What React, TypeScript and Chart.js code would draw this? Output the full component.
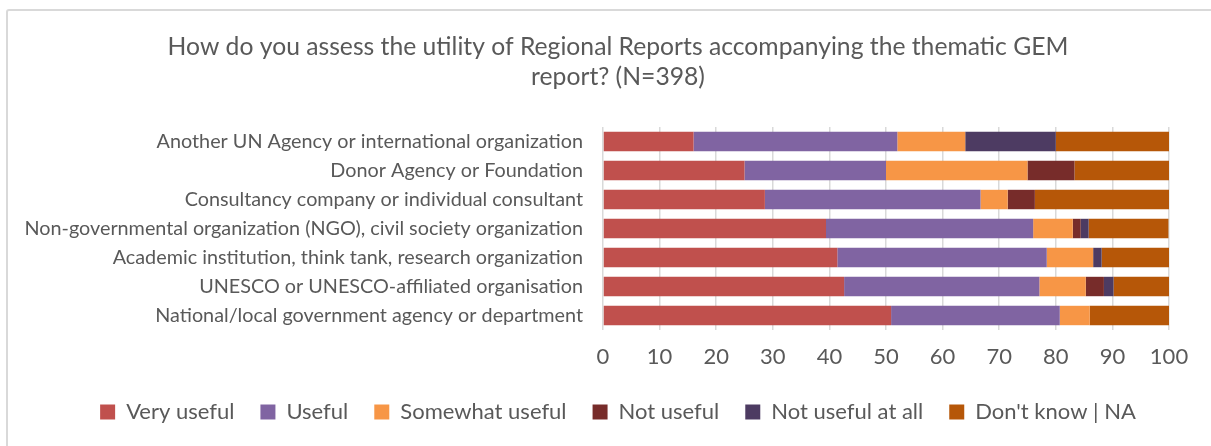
import React, { useEffect, useRef } from "react";
import { Chart, registerables } from "chart.js";

Chart.register(...registerables);

const categories = [
  "Another UN Agency or international organization",
  "Donor Agency or Foundation",
  "Consultancy company or individual consultant",
  "Non-governmental organization (NGO), civil society organization",
  "Academic institution, think tank, research organization",
  "UNESCO or UNESCO-affiliated organisation",
  "National/local government agency or department",
];

const veryUseful = [16, 25, 28.6, 39.4, 41.4, 42.6, 50.9];
const useful = [36, 25, 38.1, 36.6, 37.0, 34.5, 29.8];
const somewhatUseful = [12, 25, 4.8, 7.0, 8.2, 8.2, 5.3];
const notUseful = [0, 8.3, 4.8, 1.4, 0, 3.2, 0];
const notUsefulAtAll = [16, 0, 0, 1.4, 1.5, 1.7, 0];
const dontKnow = [20, 16.7, 23.8, 14.1, 11.9, 9.8, 14.0];

const seriesNames = ["Very useful", "Useful", "Somewhat useful", "Not useful", "Not useful at all", "Don't know | NA"];
const seriesColors = ["#C0504D", "#8064A2", "#F79646", "#772C2A", "#4D3B62", "#B65708"];
const seriesValues = [veryUseful, useful, somewhatUseful, notUseful, notUsefulAtAll, dontKnow];

const titleLines = [
  "How do you assess the utility of Regional Reports accompanying the thematic GEM",
  "report? (N=398)",
];

const FONT = "Lato, 'Open Sans', sans-serif";
const TEXT = "#595959";

export default function App() {
  const ref = useRef<HTMLCanvasElement | null>(null);
  useEffect(() => {
    if (!ref.current) return;
    const chart = new Chart(ref.current, {
      type: "bar",
      data: {
        labels: categories,
        datasets: seriesNames.map((name, i) => ({
          label: name,
          data: seriesValues[i],
          backgroundColor: seriesColors[i],
          borderWidth: 0,
          barPercentage: 0.67,
          categoryPercentage: 1,
        })),
      },
      options: {
        indexAxis: "y",
        responsive: false,
        animation: false,
        layout: { padding: { left: 0, right: -25, top: 0, bottom: 13 } },
        plugins: {
          tooltip: { enabled: false },
          title: {
            display: true,
            text: titleLines,
            color: TEXT,
            font: { family: FONT, size: 24.7, weight: "normal", lineHeight: 1.215 },
            padding: { top: 32, bottom: 35 },
          },
          legend: {
            position: "bottom",
            labels: {
              color: TEXT,
              font: { family: FONT, size: 22 },
              boxWidth: 15,
              boxHeight: 15,
              padding: 26,
            },
          },
        },
        scales: {
          x: {
            stacked: true,
            min: 0,
            max: 100,
            ticks: { stepSize: 10, color: TEXT, font: { family: FONT, size: 22 }, padding: 14 },
            grid: { color: "#d9d9d9", lineWidth: 1.5, drawTicks: false },
            border: { display: false },
            afterFit: (scale: any) => {
              scale.height = 45;
            },
          },
          y: {
            stacked: true,
            ticks: { color: TEXT, font: { family: FONT, size: 19.8 }, padding: 12 },
            grid: { display: false },
            border: { display: false },
            afterFit: (scale: any) => {
              scale.width = 603;
            },
          },
          yRightSpace: {
            type: "category",
            position: "right",
            labels: categories,
            ticks: { display: false },
            grid: { display: false },
            border: { display: false },
            afterFit: (scale: any) => {
              scale.width = 67;
            },
          },
        },
      },
    });
    return () => chart.destroy();
  }, []);
  return (
    <div style={{ position: "fixed", left: 0, top: 0, width: 1211, height: 446, overflow: "hidden", background: "#fff" }}>
      <div
        style={{
          position: "absolute",
          left: 6,
          top: 9,
          width: 1300,
          height: 600,
          border: "2px solid #d9d9d9",
          borderRadius: 3,
        }}
      />
      <canvas ref={ref} width={1211} height={446} style={{ position: "absolute", left: 0, top: 0, display: "block" }} />
    </div>
  );
}
